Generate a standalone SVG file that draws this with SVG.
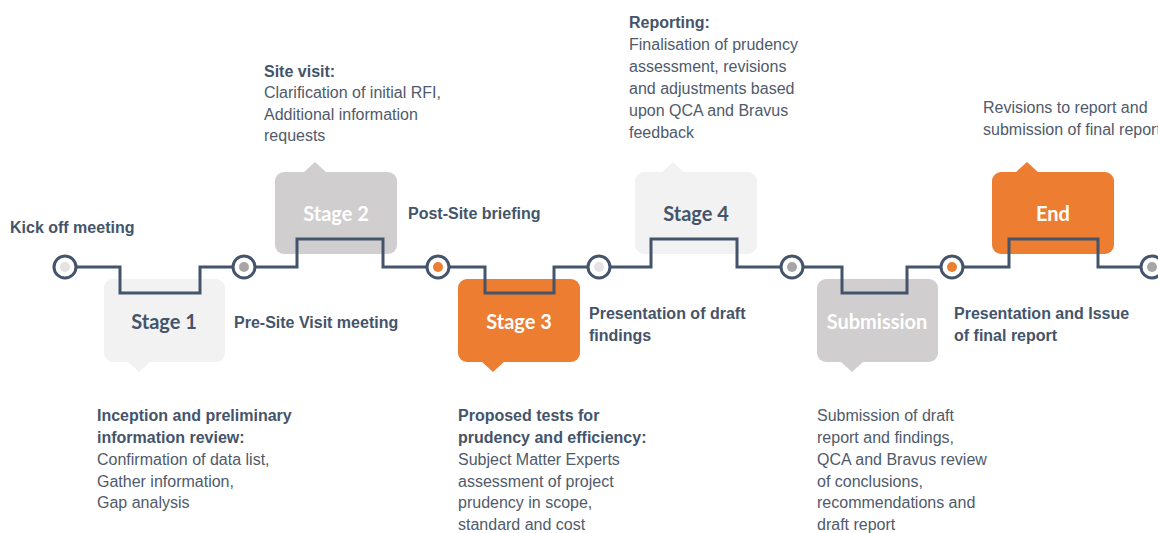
<svg xmlns="http://www.w3.org/2000/svg" width="1158" height="533" viewBox="0 0 1158 533">
<style>
.bg{fill:#ffffff}
.line{fill:none;stroke:#44546A;stroke-width:3;stroke-linejoin:miter}
.ring{fill:#ffffff;stroke:#44546A;stroke-width:3}
.light{fill:#F2F2F2}
.grey{fill:#D0CECE}
.orange{fill:#ED7D31}
.lab{font-family:Lato,"Liberation Sans",sans-serif;font-weight:bold;font-size:20px;text-anchor:middle}
.dark{fill:#44546A}
.white{fill:#ffffff}
.b{font-family:"Liberation Sans",Arial,sans-serif;font-weight:bold;font-size:16px;fill:#44546A}
.r{font-family:"Liberation Sans",Arial,sans-serif;font-size:16px;fill:#4F5A6B}
</style>
<rect class="bg" x="0" y="0" width="1158" height="533"/>

<g id="stage1">
<rect class="light" x="104" y="279" width="121" height="83" rx="9"/>
<polygon class="light" points="127,361 151,361 139,372"/>
<text class="lab dark" x="164" y="329">Stage 1</text>
</g>
<g id="stage2">
<rect class="grey" x="275" y="172" width="122" height="82" rx="9"/>
<polygon class="grey" points="303,173 327,173 315,162"/>
<text class="lab white" x="336" y="221">Stage 2</text>
</g>
<g id="stage3">
<rect class="orange" x="458" y="279" width="122" height="83" rx="9"/>
<polygon class="orange" points="481,361 505,361 493,372"/>
<text class="lab white" x="519" y="329">Stage 3</text>
</g>
<g id="stage4">
<rect class="light" x="635" y="172" width="122" height="82" rx="9"/>
<polygon class="light" points="661,173 685,173 673,162"/>
<text class="lab dark" x="696" y="221">Stage 4</text>
</g>
<g id="submission">
<rect class="grey" x="817" y="279" width="121" height="83" rx="9"/>
<polygon class="grey" points="840,361 864,361 852,372"/>
<text class="lab white" x="877" y="329">Submission</text>
</g>
<g id="end">
<rect class="orange" x="992" y="172" width="122" height="82" rx="9"/>
<polygon class="orange" points="1015,173 1039,173 1027,162"/>
<text class="lab white" x="1053" y="221">End</text>
</g>

<g id="connectors">
<path class="line" d="M76,267 H120 V293 H200 V267 H233"/>
<path class="line" d="M255,267 H297 V239 H383 V267 H427"/>
<path class="line" d="M449,267 H485 V293 H554 V267 H588"/>
<path class="line" d="M610,267 H651 V239 H737 V267 H781"/>
<path class="line" d="M803,267 H842 V293 H907 V267 H941"/>
<path class="line" d="M963,267 H1009 V239 H1098 V267 H1141"/>
</g>

<g id="milestone1"><circle class="ring" cx="65" cy="267" r="11"/><circle cx="65" cy="267" r="5" fill="#E3E3E3"/></g>
<g id="milestone2"><circle class="ring" cx="244" cy="267" r="11"/><circle cx="244" cy="267" r="5" fill="#A6A6A6"/></g>
<g id="milestone3"><circle class="ring" cx="438" cy="267" r="11"/><circle cx="438" cy="267" r="5" fill="#ED7D31"/></g>
<g id="milestone4"><circle class="ring" cx="599" cy="267" r="11"/><circle cx="599" cy="267" r="5" fill="#E3E3E3"/></g>
<g id="milestone5"><circle class="ring" cx="792" cy="267" r="11"/><circle cx="792" cy="267" r="5" fill="#A6A6A6"/></g>
<g id="milestone6"><circle class="ring" cx="952" cy="267" r="11"/><circle cx="952" cy="267" r="5" fill="#ED7D31"/></g>
<g id="milestone7"><circle class="ring" cx="1152" cy="267" r="11"/><circle cx="1152" cy="267" r="5" fill="#A6A6A6"/></g>

<g id="labels">
<text class="b" x="10" y="233">Kick off meeting</text>
<text class="b" x="234" y="328">Pre-Site Visit meeting</text>
<text class="b" x="408" y="219">Post-Site briefing</text>
<text class="b" x="589" y="319">Presentation of draft</text>
<text class="b" x="589" y="341">findings</text>
<text class="b" x="954" y="319">Presentation and Issue</text>
<text class="b" x="954" y="341">of final report</text>
</g>

<g id="desc-stage1">
<text class="b" x="97" y="421">Inception and preliminary</text>
<text class="b" x="97" y="443">information review:</text>
<text class="r" x="97" y="465">Confirmation of data list,</text>
<text class="r" x="97" y="487">Gather information,</text>
<text class="r" x="97" y="508">Gap analysis</text>
</g>
<g id="desc-stage2">
<text class="b" x="264" y="77">Site visit:</text>
<text class="r" x="264" y="98">Clarification of initial RFI,</text>
<text class="r" x="264" y="120">Additional information</text>
<text class="r" x="264" y="141">requests</text>
</g>
<g id="desc-stage3">
<text class="b" x="458" y="421">Proposed tests for</text>
<text class="b" x="458" y="443">prudency and efficiency:</text>
<text class="r" x="458" y="465">Subject Matter Experts</text>
<text class="r" x="458" y="487">assessment of project</text>
<text class="r" x="458" y="508">prudency in scope,</text>
<text class="r" x="458" y="530">standard and cost</text>
</g>
<g id="desc-stage4">
<text class="b" x="629" y="28">Reporting:</text>
<text class="r" x="629" y="50">Finalisation of prudency</text>
<text class="r" x="629" y="72">assessment, revisions</text>
<text class="r" x="629" y="94">and adjustments based</text>
<text class="r" x="629" y="116">upon QCA and Bravus</text>
<text class="r" x="629" y="138">feedback</text>
</g>
<g id="desc-submission">
<text class="r" x="817" y="421">Submission of draft</text>
<text class="r" x="817" y="443">report and findings,</text>
<text class="r" x="817" y="465">QCA and Bravus review</text>
<text class="r" x="817" y="487">of conclusions,</text>
<text class="r" x="817" y="508">recommendations and</text>
<text class="r" x="817" y="530">draft report</text>
</g>
<g id="desc-end">
<text class="r" x="983" y="113">Revisions to report and</text>
<text class="r" x="983" y="135">submission of final report</text>
</g>
</svg>
